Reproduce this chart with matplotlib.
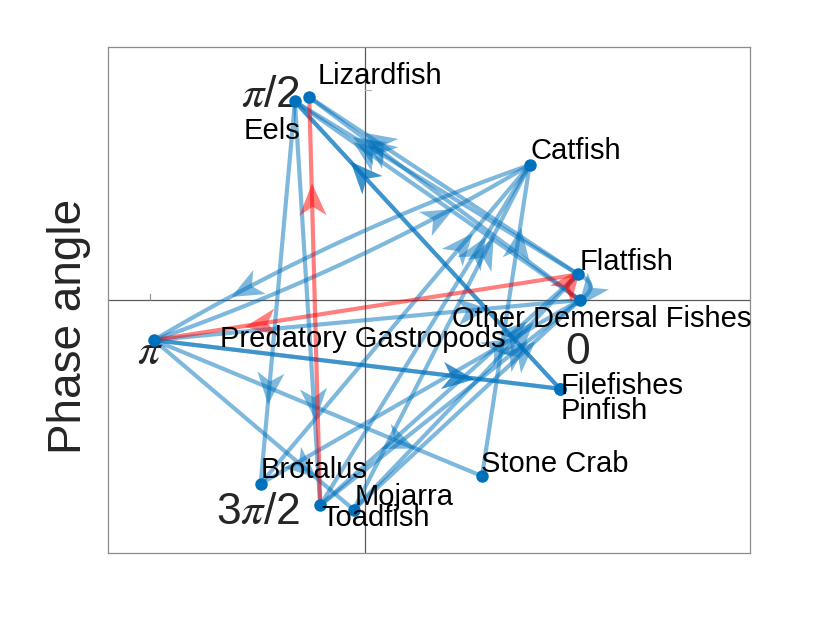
import numpy as np
import matplotlib
matplotlib.use("Agg")
import matplotlib.pyplot as plt
from matplotlib.path import Path
from matplotlib.markers import MarkerStyle
from matplotlib.transforms import Affine2D

plt.rcParams['font.family'] = ['Liberation Sans', 'DejaVu Sans']
plt.rcParams['mathtext.fontset'] = 'stix'

# nodes and their phase angle (degrees)
nodes = ['Lizardfish', 'Eels', 'Catfish', 'Flatfish', 'Other Demersal Fishes',
         'Predatory Gastropods', 'Filefishes', 'Pinfish', 'Stone Crab',
         'Brotalus', 'Toadfish', 'Mojarra']
phase_deg = [105, 109, 40, 7, 0, 191, -25, -25, -57, -119, -102, -93]

# directed edges (source, target)
blue_edges = [
    ('Catfish', 'Predatory Gastropods'),
    ('Predatory Gastropods', 'Catfish'),
    ('Predatory Gastropods', 'Other Demersal Fishes'),
    ('Predatory Gastropods', 'Filefishes'),
    ('Predatory Gastropods', 'Pinfish'),
    ('Predatory Gastropods', 'Stone Crab'),
    ('Predatory Gastropods', 'Mojarra'),
    ('Eels', 'Brotalus'),
    ('Eels', 'Toadfish'),
    ('Flatfish', 'Lizardfish'),
    ('Other Demersal Fishes', 'Lizardfish'),
    ('Flatfish', 'Eels'),
    ('Other Demersal Fishes', 'Eels'),
    ('Filefishes', 'Eels'),
    ('Pinfish', 'Eels'),
    ('Brotalus', 'Catfish'),
    ('Toadfish', 'Catfish'),
    ('Mojarra', 'Catfish'),
    ('Stone Crab', 'Catfish'),
    ('Brotalus', 'Other Demersal Fishes'),
    ('Toadfish', 'Other Demersal Fishes'),
    ('Toadfish', 'Flatfish'),
    ('Mojarra', 'Other Demersal Fishes'),
    ('Mojarra', 'Flatfish'),
    ('Flatfish', 'Other Demersal Fishes'),
]
red_edges = [
    ('Toadfish', 'Lizardfish'),
    ('Flatfish', 'Predatory Gastropods'),
    ('Other Demersal Fishes', 'Flatfish'),
]

# curvature of reciprocal edges
bend = {
    ('Catfish', 'Predatory Gastropods'): -0.05,
    ('Predatory Gastropods', 'Catfish'): -0.05,
    ('Flatfish', 'Other Demersal Fishes'): 0.9,
    ('Other Demersal Fishes', 'Flatfish'): 0.9,
}

# label offsets in pixels (dx, dy, ha)
label_off = {
    'Lizardfish': (8, 21, 'left'),
    'Eels': (5, -30, 'right'),
    'Catfish': (1, 14, 'left'),
    'Flatfish': (1, 12, 'left'),
    'Other Demersal Fishes': (-128, -19, 'left'),
    'Predatory Gastropods': (66, 1, 'left'),
    'Filefishes': (1, 3, 'left'),
    'Pinfish': (1, -22, 'left'),
    'Stone Crab': (-1, 12, 'left'),
    'Brotalus': (0, 14, 'left'),
    'Toadfish': (1, -13, 'left'),
    'Mojarra': (1, 13, 'left'),
}

th = np.radians(phase_deg)
pos = {n: (np.cos(t), np.sin(t)) for n, t in zip(nodes, th)}

fig = plt.figure(figsize=(8.3, 6.23), dpi=100)
ax = fig.add_axes([108 / 830, 70 / 623, 642 / 830, 506 / 623])
ax.set_xlim(-1.195, 1.791)
ax.set_ylim(-1.205, 1.205)
ax.set_xticks([])
ax.set_yticks([])
for s in ax.spines.values():
    s.set_color('#8c8c8c')
    s.set_linewidth(0.9)
ax.axhline(0, color='#5a5a5a', lw=0.9, zorder=0)
ax.axvline(0, color='#5a5a5a', lw=0.9, zorder=0)
ax.plot([-1, -1], [0, 0.03], color='#8c8c8c', lw=0.8, zorder=0)
ax.plot([0, 0.03], [1, 1], color='#b0b0b0', lw=0.8, zorder=0)

head = Path([(1, 0), (-1, 0.85), (-0.45, 0), (-1, -0.85), (1, 0)],
            [Path.MOVETO, Path.LINETO, Path.LINETO, Path.LINETO, Path.CLOSEPOLY])


def draw_edge(src, dst, color):
    a = ax.transData.transform(pos[src])
    b = ax.transData.transform(pos[dst])
    d = b - a
    c = (a + b) / 2 + bend.get((src, dst), 0.0) * np.array([-d[1], d[0]])
    t = np.linspace(0, 1, 60)[:, None]
    pts = (1 - t) ** 2 * a + 2 * (1 - t) * t * c + t ** 2 * b
    xy = ax.transData.inverted().transform(pts)
    ax.plot(xy[:, 0], xy[:, 1], color=color, lw=3.0, alpha=0.5,
            solid_capstyle='butt', zorder=2)
    s = 0.75
    p = (1 - s) ** 2 * a + 2 * (1 - s) * s * c + s ** 2 * b
    tan = 2 * (1 - s) * (c - a) + 2 * s * (b - c)
    ang = np.degrees(np.arctan2(tan[1], tan[0]))
    m = MarkerStyle(head, transform=Affine2D().rotate_deg(ang))
    px, py = ax.transData.inverted().transform(p)
    ax.plot([px], [py], marker=m, ms=23, color=color, alpha=0.5,
            mew=0, ls='none', zorder=2)


for e in blue_edges:
    draw_edge(e[0], e[1], '#0072BD')
for e in red_edges:
    draw_edge(e[0], e[1], '#FF0000')

xs = [pos[n][0] for n in nodes]
ys = [pos[n][1] for n in nodes]
ax.plot(xs, ys, 'o', color='#0072BD', ms=9, mew=0, zorder=5)

for n in nodes:
    dx, dy, ha = label_off[n]
    ax.annotate(n, pos[n], xytext=(dx, dy), textcoords='offset pixels',
                ha=ha, va='center', fontsize=21, color='black', zorder=6)

# phase angle marks
ax.text(-0.30, 0.975, r'$\pi$/2', ha='right', va='center', fontsize=32, color='#262626')
ax.text(-1.0, -0.25, r'$\pi$', ha='center', va='center', fontsize=32, color='#262626')
ax.text(0.99, -0.25, '0', ha='center', va='center', fontsize=32, color='#262626')
ax.text(-0.30, -1.01, r'3$\pi$/2', ha='right', va='center', fontsize=32, color='#262626')

ax.set_ylabel('Phase angle', fontsize=33, color='#262626')
ax.yaxis.set_label_coords(-0.027, 0.447)

fig.savefig('out.png', dpi=100)
